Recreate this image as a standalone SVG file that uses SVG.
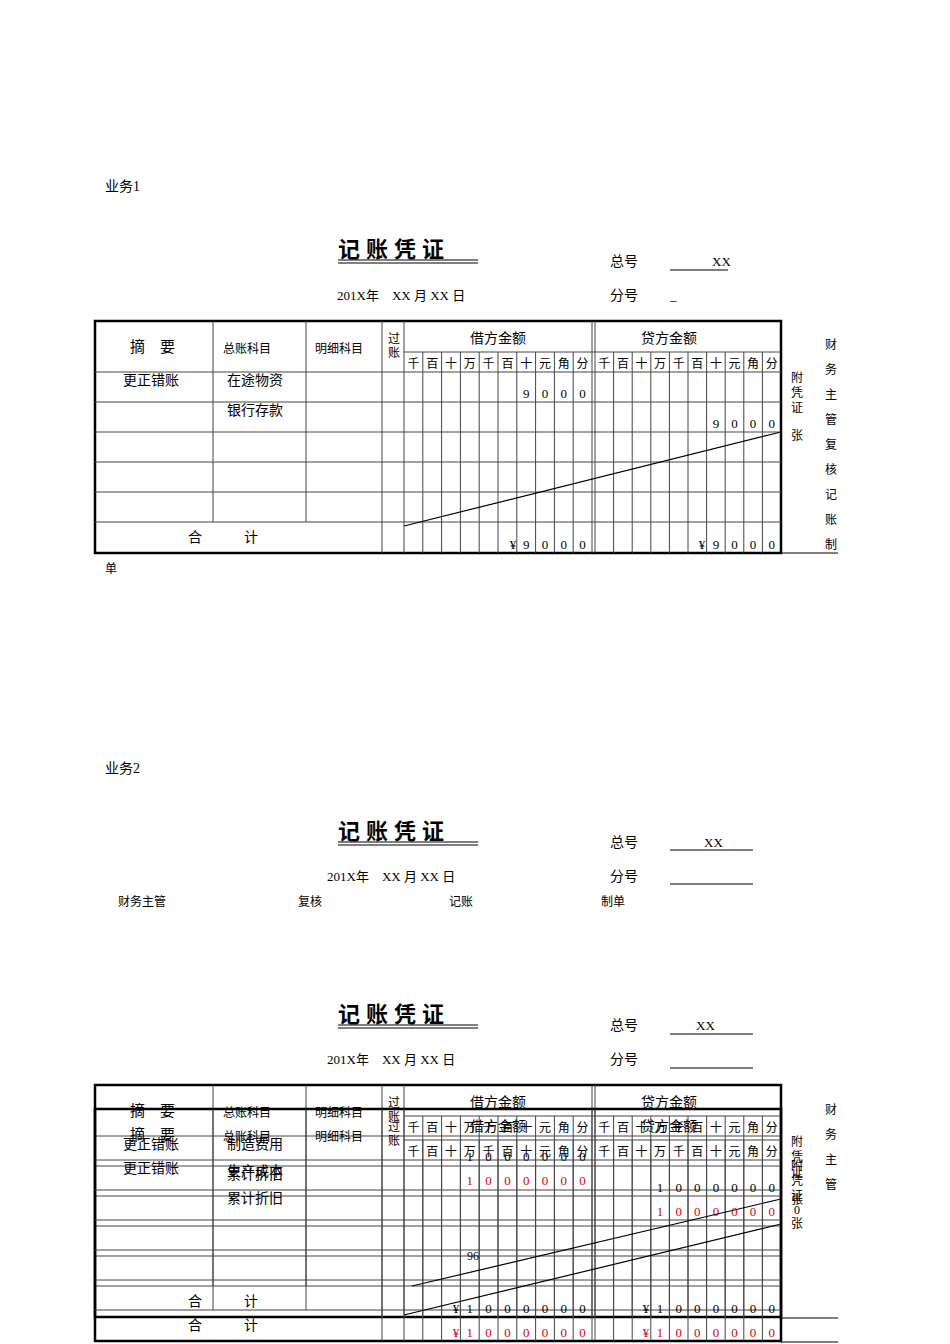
<svg xmlns="http://www.w3.org/2000/svg" width="950" height="1344" viewBox="0 0 950 1344">
<style>
text{font-family:"Liberation Serif","Noto Sans CJK SC",serif;fill:#000}
.s12{font-size:12px}.s13{font-size:13px}.s14{font-size:14px}.s15{font-size:15px}
.t{font-size:22px;font-weight:bold;letter-spacing:6px}
.c{text-anchor:middle}
.r{fill:#e00000}
.g{stroke:#444;stroke-width:1;fill:none}
.k{stroke:#000;stroke-width:1.2;fill:none}
</style>
<defs>
<g id="grid">
<rect x="95" y="321" width="686" height="232" fill="none" stroke="#000" stroke-width="2.5"/>
<path class="g" d="M404 352H781M95 372H781M95 402H781M95 432H781M95 462H781M95 492H781M95 522H781M213 321V522M306 321V522M382 321V553M404 321V553M592 321V553M595 321V553"/>
<path class="g" d="M422.8 352V553M441.6 352V553M460.4 352V553M479.2 352V553M498 352V553M516.8 352V553M535.6 352V553M554.4 352V553M573.2 352V553M613.6 352V553M632.2 352V553M650.8 352V553M669.4 352V553M688 352V553M706.6 352V553M725.2 352V553M743.8 352V553M762.4 352V553"/>
<text class="s15" x="130" y="352">摘　要</text>
<text class="s12" x="223" y="353">总账科目</text>
<text class="s12" x="315" y="353">明细科目</text>
<text class="s12 c" x="394" y="343">过</text>
<text class="s12 c" x="394" y="357">账</text>
<text class="s14 c" x="498" y="343">借方金额</text>
<text class="s14 c" x="669" y="343">贷方金额</text>
<g class="s12 c">
<text x="413.4" y="368">千</text><text x="432.2" y="368">百</text><text x="451" y="368">十</text><text x="469.8" y="368">万</text><text x="488.6" y="368">千</text><text x="507.4" y="368">百</text><text x="526.2" y="368">十</text><text x="545" y="368">元</text><text x="563.8" y="368">角</text><text x="582.6" y="368">分</text>
<text x="604.3" y="368">千</text><text x="622.9" y="368">百</text><text x="641.5" y="368">十</text><text x="660.1" y="368">万</text><text x="678.7" y="368">千</text><text x="697.3" y="368">百</text><text x="715.9" y="368">十</text><text x="734.5" y="368">元</text><text x="753.1" y="368">角</text><text x="771.7" y="368">分</text>
</g>
<text class="s14" x="188" y="542">合　　　计</text>
</g>
</defs>

<text class="s14" x="105" y="191">业务1</text>
<g id="voucher1">
<text class="t" x="338" y="257">记账凭证</text>
<path class="k" d="M338 260H478M338 263H478"/>
<text class="s14" x="610" y="266">总号</text>
<path class="k" d="M670 270H728"/>
<text class="s13" x="712" y="266">XX</text>
<text class="s13" x="337" y="300">201X年　XX 月 XX 日</text>
<text class="s14" x="610" y="300">分号</text>
<text class="s13" x="670" y="300">_</text>
<use href="#grid"/>
<text class="s14" x="123" y="385">更正错账</text>
<text class="s14" x="227" y="385">在途物资</text>
<text class="s14" x="227" y="415">银行存款</text>
<g class="s13 c">
<text x="526.2" y="398">9</text><text x="545" y="398">0</text><text x="563.8" y="398">0</text><text x="582.6" y="398">0</text>
<text x="715.9" y="428">9</text><text x="734.5" y="428">0</text><text x="753.1" y="428">0</text><text x="771.7" y="428">0</text>
<text x="513" y="549">¥</text><text x="526.2" y="549">9</text><text x="545" y="549">0</text><text x="563.8" y="549">0</text><text x="582.6" y="549">0</text>
<text x="702" y="549">¥</text><text x="715.9" y="549">9</text><text x="734.5" y="549">0</text><text x="753.1" y="549">0</text><text x="771.7" y="549">0</text>
</g>
<path class="k" d="M404 526L781 432M781 553H838"/>
<g class="s12 c"><text x="797" y="382">附</text><text x="797" y="397">凭</text><text x="797" y="412">证</text><text x="797" y="440">张</text></g>
<g class="s12 c"><text x="831" y="349">财</text><text x="831" y="374">务</text><text x="831" y="399">主</text><text x="831" y="424">管</text><text x="831" y="449">复</text><text x="831" y="474">核</text><text x="831" y="499">记</text><text x="831" y="524">账</text><text x="831" y="549">制</text></g>
<text class="s12" x="105" y="573">单</text>
</g>

<text class="s14" x="105" y="773">业务2</text>
<g id="voucher2">
<text class="t" x="338" y="839">记账凭证</text>
<path class="k" d="M338 842H478M338 845H478"/>
<text class="s14" x="610" y="847">总号</text>
<path class="k" d="M670 850H753"/>
<text class="s13" x="704" y="847">XX</text>
<text class="s13" x="327" y="881">201X年　XX 月 XX 日</text>
<text class="s14" x="610" y="881">分号</text>
<path class="k" d="M670 884H753"/>
<text class="s12" x="118" y="906">财务主管</text>
<text class="s12" x="298" y="906">复核</text>
<text class="s12" x="449" y="906">记账</text>
<text class="s12" x="601" y="906">制单</text>
</g>

<g id="voucher3">
<text class="t" x="338" y="1022">记账凭证</text>
<path class="k" d="M338 1025H478M338 1028H478"/>
<text class="s14" x="610" y="1030">总号</text>
<path class="k" d="M670 1034H753"/>
<text class="s13" x="696" y="1030">XX</text>
<text class="s13" x="327" y="1064">201X年　XX 月 XX 日</text>
<text class="s14" x="610" y="1064">分号</text>
<path class="k" d="M670 1068H753"/>
<use href="#grid" transform="translate(0,764)"/>
<use href="#grid" transform="translate(0,788)"/>
<text class="s14" x="123" y="1149">更正错账</text>
<text class="s14" x="227" y="1149">制造费用</text>
<text class="s14" x="227" y="1176">生产成本</text>
<text class="s14" x="123" y="1173">更正错账</text>
<text class="s14" x="227" y="1179">累计折旧</text>
<text class="s14" x="227" y="1203">累计折旧</text>
<g class="s13 c">
<text x="469.8" y="1161">1</text><text x="488.6" y="1161">0</text><text x="507.4" y="1161">0</text><text x="526.2" y="1161">0</text><text x="545" y="1161">0</text><text x="563.8" y="1161">0</text><text x="582.6" y="1161">0</text>
<text x="660.1" y="1192">1</text><text x="678.7" y="1192">0</text><text x="697.3" y="1192">0</text><text x="715.9" y="1192">0</text><text x="734.5" y="1192">0</text><text x="753.1" y="1192">0</text><text x="771.7" y="1192">0</text>
<text x="456" y="1313">¥</text><text x="469.8" y="1313">1</text><text x="488.6" y="1313">0</text><text x="507.4" y="1313">0</text><text x="526.2" y="1313">0</text><text x="545" y="1313">0</text><text x="563.8" y="1313">0</text><text x="582.6" y="1313">0</text>
<text x="646" y="1313">¥</text><text x="660.1" y="1313">1</text><text x="678.7" y="1313">0</text><text x="697.3" y="1313">0</text><text x="715.9" y="1313">0</text><text x="734.5" y="1313">0</text><text x="753.1" y="1313">0</text><text x="771.7" y="1313">0</text>
</g>
<g class="s13 c r">
<text class="r" x="469.8" y="1185">1</text><text class="r" x="488.6" y="1185">0</text><text class="r" x="507.4" y="1185">0</text><text class="r" x="526.2" y="1185">0</text><text class="r" x="545" y="1185">0</text><text class="r" x="563.8" y="1185">0</text><text class="r" x="582.6" y="1185">0</text>
<text class="r" x="660.1" y="1216">1</text><text class="r" x="678.7" y="1216">0</text><text class="r" x="697.3" y="1216">0</text><text class="r" x="715.9" y="1216">0</text><text class="r" x="734.5" y="1216">0</text><text class="r" x="753.1" y="1216">0</text><text class="r" x="771.7" y="1216">0</text>
<text class="r" x="456" y="1337">¥</text><text class="r" x="469.8" y="1337">1</text><text class="r" x="488.6" y="1337">0</text><text class="r" x="507.4" y="1337">0</text><text class="r" x="526.2" y="1337">0</text><text class="r" x="545" y="1337">0</text><text class="r" x="563.8" y="1337">0</text><text class="r" x="582.6" y="1337">0</text>
<text class="r" x="646" y="1337">¥</text><text class="r" x="660.1" y="1337">1</text><text class="r" x="678.7" y="1337">0</text><text class="r" x="697.3" y="1337">0</text><text class="r" x="715.9" y="1337">0</text><text class="r" x="734.5" y="1337">0</text><text class="r" x="753.1" y="1337">0</text><text class="r" x="771.7" y="1337">0</text>
</g>
<text class="s12" x="467" y="1260">96</text>
<path class="k" d="M412 1286L781 1199M404 1315L781 1224M781 1318H838M781 1342H838"/>
<g class="s12 c"><text x="797" y="1146">附</text><text x="797" y="1161">凭</text><text x="797" y="1176">证</text><text x="797" y="1204">张</text><text x="797" y="1170">附</text><text x="797" y="1185">凭</text><text x="797" y="1200">证</text><text x="797" y="1214">0</text><text x="797" y="1228">张</text></g>
<g class="s12 c"><text x="831" y="1114">财</text><text x="831" y="1139">务</text><text x="831" y="1164">主</text><text x="831" y="1189">管</text></g>
</g>
</svg>
